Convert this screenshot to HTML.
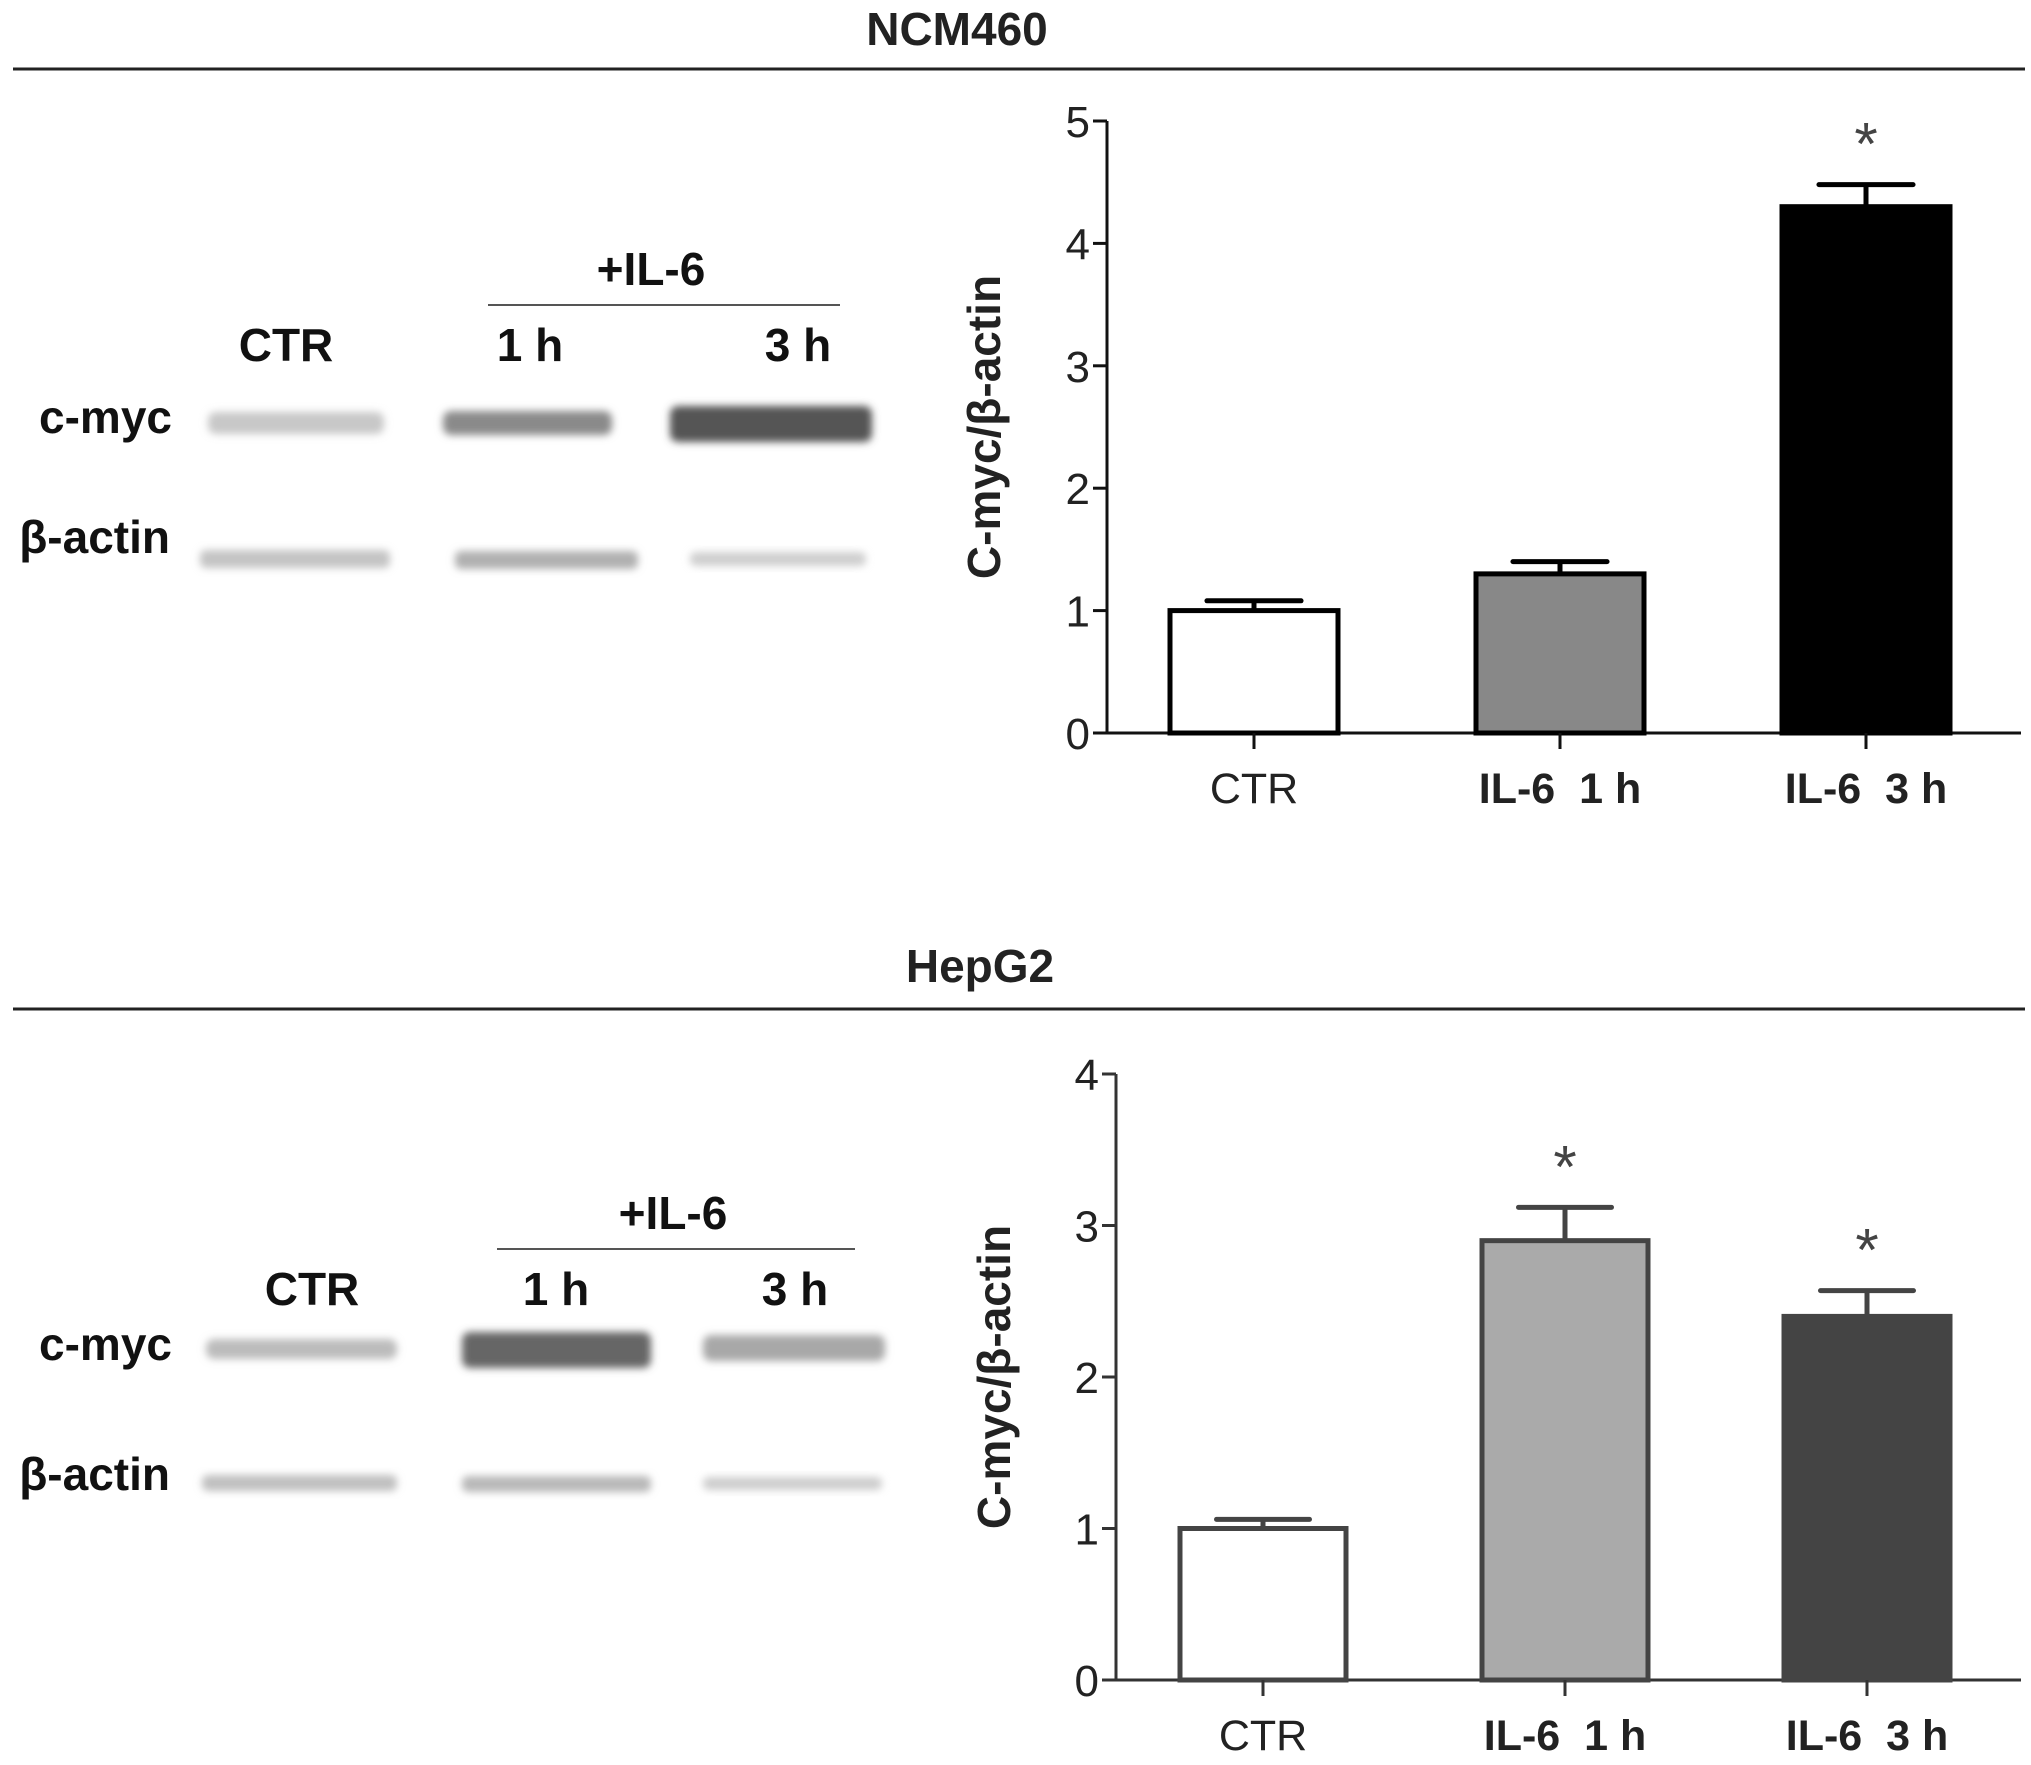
<!DOCTYPE html>
<html><head><meta charset="utf-8"><style>
html,body{margin:0;padding:0;background:#fff;}
svg{display:block;font-family:"Liberation Sans",sans-serif;}
</style></head><body>
<svg id="fig" width="2031" height="1765" viewBox="0 0 2031 1765">
<defs>
<filter id="blur" x="-10%" y="-50%" width="120%" height="200%"><feGaussianBlur stdDeviation="4"/></filter>
</defs>
<g>
<text x="957" y="45" font-size="46" font-weight="bold" text-anchor="middle" fill="#222">NCM460</text>
<line x1="13" y1="69" x2="2025" y2="69" stroke="#222" stroke-width="3"/>
</g>
<g>
<text x="980" y="982" font-size="46" font-weight="bold" text-anchor="middle" fill="#222">HepG2</text>
<line x1="13" y1="1009" x2="2025" y2="1009" stroke="#222" stroke-width="3"/>
</g>
<g id="blots"></g>
<g id="charts"></g>
</svg>
<script>
// ---- chart data ----
const categories = ["CTR", "IL-6\u00a0\u00a01 h", "IL-6\u00a0\u00a03 h"];
const ncmValues = [1.0, 1.3, 4.3];
const ncmErrors = [0.08, 0.1, 0.18];
const ncmSig = [false, false, true];
const ncmTicks = ["0", "1", "2", "3", "4", "5"];
const hepValues = [1.0, 2.9, 2.4];
const hepErrors = [0.06, 0.22, 0.17];
const hepSig = [false, true, true];
const hepTicks = ["0", "1", "2", "3", "4"];

const NS = "http://www.w3.org/2000/svg";
function mk(tag, attrs, parent, txt){
  const e = document.createElementNS(NS, tag);
  for (const k in attrs) e.setAttribute(k, attrs[k]);
  if (txt !== undefined) e.textContent = txt;
  parent.appendChild(e);
  return e;
}
const chartsG = document.getElementById('charts');

function drawChart(cfg){
  const g = mk('g', {}, chartsG);
  
  
  const ymax = cfg.ticks.length - 1;
  const y = v => cfg.y0 - (v / ymax) * (cfg.y0 - cfg.yTop);
  const xc = i => cfg.firstCenter + i * cfg.spacing;
  const ax = mk('g', {}, g);
  
  
  mk('line', {x1: cfg.x0, y1: cfg.yTop, x2: cfg.x0, y2: cfg.y0, stroke: cfg.axis, 'stroke-width': 3}, ax);
  cfg.ticks.forEach((t, i) => {
    const ty = y(i);
    mk('line', {x1: cfg.x0 - 14, y1: ty, x2: cfg.x0, y2: ty, stroke: cfg.axis, 'stroke-width': 3}, ax);
    const lbl = mk('text', {x: cfg.x0 - 17, y: ty + 16, 'font-size': 44, 'text-anchor': 'end', fill: '#222'}, ax, t);
    
    
  });
  const xa = mk('line', {x1: cfg.x0, y1: cfg.y0, x2: cfg.xEnd, y2: cfg.y0, stroke: cfg.axis, 'stroke-width': 3}, g);
  
  
  const title = mk('text', {x: 0, y: 0, 'font-size': 46, 'font-weight': 'bold', 'text-anchor': 'middle', fill: '#222',
    transform: `translate(${cfg.titleX},${(cfg.y0 + cfg.yTop) / 2}) rotate(-90)`}, g, 'C-myc/β-actin');
  
  
  cfg.values.forEach((v, i) => {
    const cx = xc(i), w = cfg.barW;
    const top = y(v), et = y(v + cfg.errors[i]);
    mk('line', {x1: cx, y1: et, x2: cx, y2: top, stroke: cfg.edge, 'stroke-width': 5}, g);
    const cap = mk('line', {x1: cx - w * 0.28, y1: et, x2: cx + w * 0.28, y2: et, stroke: cfg.edge, 'stroke-width': 5, 'stroke-linecap': 'round'}, g);
    
    
    const bar = mk('rect', {x: cx - w / 2, y: top, width: w, height: cfg.y0 - top, fill: cfg.fills[i], stroke: cfg.edge, 'stroke-width': 5}, g);
    
    
    mk('line', {x1: cx, y1: cfg.y0, x2: cx, y2: cfg.y0 + 16, stroke: cfg.axis, 'stroke-width': 3}, g);
    const cl = mk('text', {x: cx, y: cfg.y0 + 70, 'font-size': 43, 'font-weight': i ? 'bold' : 'normal', 'text-anchor': 'middle', fill: '#222'}, g, categories[i]);
    
    
    if (cfg.sig[i]) {
      const s = mk('text', {x: cx, y: et - 20, 'font-size': 60, 'text-anchor': 'middle', fill: '#444'}, g, '*');
      
      
    }
  });
}
drawChart({name:'ncm460-bar-chart', values: ncmValues, errors: ncmErrors, sig: ncmSig, ticks: ncmTicks,
  x0:1107, xEnd:2021, y0:733, yTop:121, firstCenter:1254, spacing:306, barW:168, titleX:1000,
  fills:['#fff','#888','#000'], edge:'#000', axis:'#111'});
drawChart({name:'hepg2-bar-chart', values: hepValues, errors: hepErrors, sig: hepSig, ticks: hepTicks,
  x0:1116, xEnd:2021, y0:1680, yTop:1074, firstCenter:1263, spacing:302, barW:166, titleX:1010,
  fills:['#fff','#aaa','#444'], edge:'#444', axis:'#333'});

// ---- western blots (static illustration) ----
const blotsG = document.getElementById('blots');
function blot(name, oy, lbl, lineX, bandsMyc, bandsAct){
  const g = mk('g', {}, blotsG);
  
  
  mk('text', {x: lbl.il, y: oy + 14, 'font-size': 46, 'font-weight': 'bold', 'text-anchor': 'middle', fill: '#111'}, g, '+IL-6');
  mk('line', {x1: lineX[0], y1: oy + 34, x2: lineX[1], y2: oy + 34, stroke: '#555', 'stroke-width': 2}, g);
  ['CTR', '1 h', '3 h'].forEach((t, i) => mk('text', {x: lbl.lanes[i], y: oy + 90, 'font-size': 46, 'font-weight': 'bold', 'text-anchor': 'middle', fill: '#111'}, g, t));
  mk('text', {x: 172, y: oy + lbl.mycY, 'font-size': 46, 'font-weight': 'bold', 'text-anchor': 'end', fill: '#111'}, g, 'c-myc');
  mk('text', {x: 170, y: oy + lbl.actY, 'font-size': 46, 'font-weight': 'bold', 'text-anchor': 'end', fill: '#111'}, g, 'β-actin');
  bandsMyc.forEach(b => mk('rect', {x: b[0], y: oy + b[2], width: b[1] - b[0], height: b[3], rx: 8, fill: b[4], filter: 'url(#blur)'}, g));
  bandsAct.forEach(b => mk('rect', {x: b[0], y: oy + b[2], width: b[1] - b[0], height: b[3], rx: 6, fill: b[4], filter: 'url(#blur)'}, g));
}
blot('ncm460-western-blot', 271, {il: 651, lanes: [286, 530, 798], mycY: 162, actY: 282}, [488, 840],
  [[208,384,141,22,'#c8c8c8'],[443,612,140,24,'#8a8a8a'],[670,872,135,36,'#555']],
  [[200,390,279,18,'#c4c4c4'],[455,638,280,18,'#b0b0b0'],[690,866,281,14,'#cfcfcf']]);
blot('hepg2-western-blot', 1215, {il: 673, lanes: [312, 556, 795], mycY: 145, actY: 275}, [497, 855],
  [[206,397,124,20,'#bcbcbc'],[462,651,117,36,'#666'],[703,885,120,26,'#a8a8a8']],
  [[202,397,260,16,'#c0c0c0'],[462,651,261,16,'#b8b8b8'],[703,882,262,13,'#cdcdcd']]);
</script>
</body></html>
